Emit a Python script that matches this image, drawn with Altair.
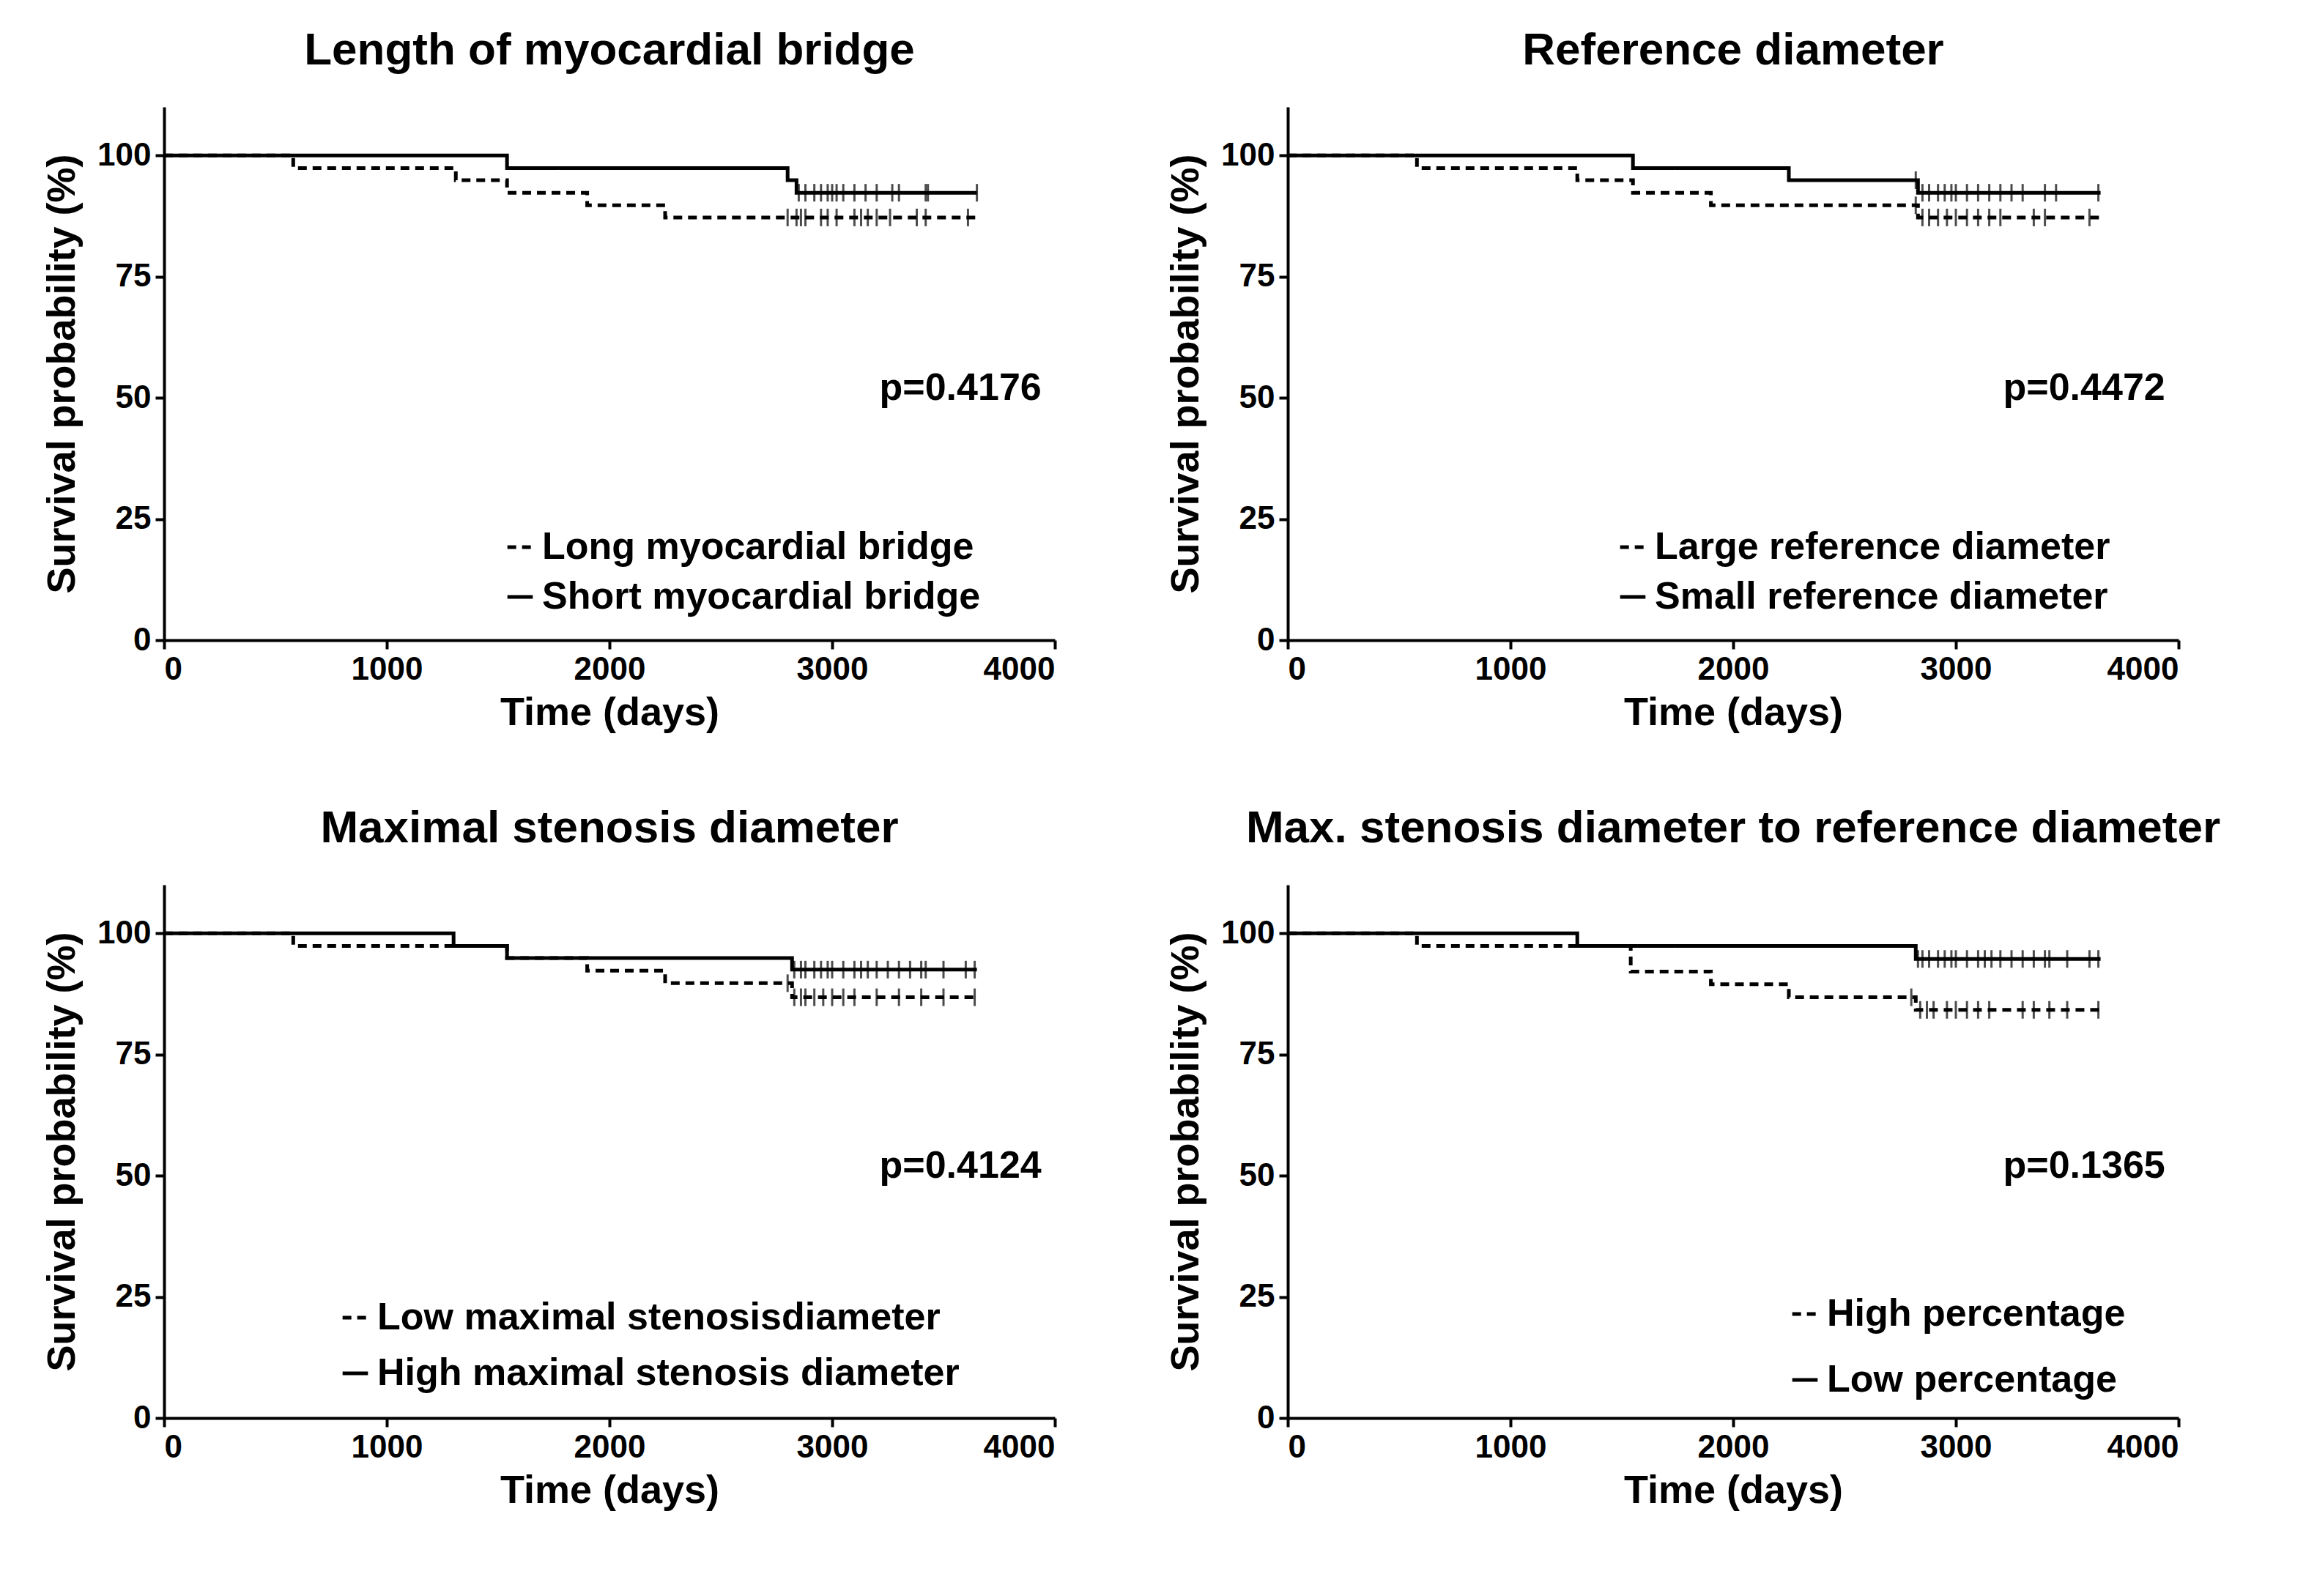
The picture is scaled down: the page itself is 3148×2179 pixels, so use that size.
import altair as alt
import pandas as pd

FONT = "Liberation Sans, Arial, sans-serif"

titles = ["Length of myocardial bridge", "Reference diameter",
          "Maximal stenosis diameter", "Max. stenosis diameter to reference diameter"]
p_values = ["p=0.4176", "p=0.4472", "p=0.4124", "p=0.1365"]

# group names: dashed first, solid second
groups = [
    ["Long myocardial bridge", "Short myocardial bridge"],
    ["Large reference diameter", "Small reference diameter"],
    ["Low maximal stenosisdiameter", "High maximal stenosis diameter"],
    ["High percentage", "Low percentage"],
]

# step curves: times of steps and survival values (%)
dash_t = [
    [0, 580, 1310, 1540, 1900, 2250, 3650],
    [0, 580, 1300, 1550, 1900, 2830, 3650],
    [0, 580, 1540, 1900, 2250, 2820, 3650],
    [0, 580, 1540, 1900, 2250, 2820, 3650],
]
dash_s = [
    [100, 97.4, 94.9, 92.3, 89.7, 87.2, 87.2],
    [100, 97.4, 94.9, 92.3, 89.7, 87.2, 87.2],
    [100, 97.4, 94.9, 92.3, 89.7, 86.8, 86.8],
    [100, 97.4, 92.1, 89.5, 86.8, 84.2, 84.2],
]
solid_t = [
    [0, 1540, 2800, 2840, 3650],
    [0, 1550, 2250, 2830, 3650],
    [0, 1300, 1540, 2820, 3650],
    [0, 1300, 2820, 3650],
]
solid_s = [
    [100, 97.4, 94.9, 92.3, 92.3],
    [100, 97.4, 94.9, 92.3, 92.3],
    [100, 97.4, 94.9, 92.5, 92.5],
    [100, 97.4, 94.7, 94.7],
]

# censoring marks (days)
dash_c = [
    [2800, 2840, 2860, 2880, 2950, 2980, 3020, 3100, 3130, 3160, 3200, 3260, 3380, 3420, 3610],
    [2820, 2850, 2880, 2920, 2960, 3000, 3050, 3100, 3150, 3200, 3350, 3400, 3600],
    [2800, 2830, 2860, 2880, 2920, 2960, 3000, 3050, 3100, 3200, 3300, 3400, 3500, 3640],
    [2800, 2840, 2870, 2900, 2960, 3000, 3050, 3100, 3150, 3300, 3350, 3420, 3500, 3640],
]
solid_c = [
    [2850, 2880, 2920, 2950, 2980, 3000, 3020, 3050, 3100, 3150, 3200, 3270, 3300, 3420, 3430, 3650],
    [2820, 2850, 2880, 2920, 2950, 2980, 3000, 3050, 3100, 3150, 3200, 3250, 3300, 3400, 3450, 3640],
    [2830, 2860, 2880, 2920, 2950, 2980, 3000, 3050, 3100, 3130, 3160, 3200, 3250, 3300, 3350, 3400, 3420, 3500, 3600, 3640],
    [2830, 2850, 2880, 2920, 2950, 2980, 3000, 3050, 3100, 3130, 3160, 3200, 3250, 3300, 3350, 3400, 3420, 3500, 3600, 3640],
]

legend_pos = [(460, 575), (445, 575), (235, 565), (680, 560)]
legend_gap = [16, 16, 24, 38]

W, H = 1216, 728


def panel(i):
    rows, cens = [], []
    for g, ts, ss, cs in [(groups[i][0], dash_t[i], dash_s[i], dash_c[i]),
                          (groups[i][1], solid_t[i], solid_s[i], solid_c[i])]:
        for t, s in zip(ts, ss):
            rows.append({"time": t, "surv": s, "group": g})
        for c in cs:
            s_at = [s for t, s in zip(ts, ss) if t <= c][-1]
            cens.append({"time": c, "surv": s_at, "group": g})
    df = pd.DataFrame(rows)
    dc = pd.DataFrame(cens)
    dash_scale = alt.Scale(domain=groups[i], range=[[12, 8], [1, 0]])
    x = alt.X("time:Q", title="Time (days)",
              scale=alt.Scale(domain=[0, 4000], nice=False),
              axis=alt.Axis(values=[0, 1000, 2000, 3000, 4000], format="d"))
    y = alt.Y("surv:Q", title="Survival probability (%)",
              scale=alt.Scale(domain=[0, 110], nice=False),
              axis=alt.Axis(values=[0, 25, 50, 75, 100], format="d"))
    lines = alt.Chart(df).mark_line(interpolate="step-after", color="black", strokeWidth=5).encode(
        x=x, y=y, detail="group:N",
        strokeDash=alt.StrokeDash("group:N", scale=dash_scale, sort=groups[i],
                                  legend=alt.Legend(
                                      title=None, orient="none",
                                      legendX=legend_pos[i][0], legendY=legend_pos[i][1],
                                      labelFont=FONT, labelFontSize=52, labelFontWeight="bold",
                                      labelColor="black", symbolType="stroke", symbolSize=1200,
                                      symbolStrokeWidth=5, symbolStrokeColor="black",
                                      rowPadding=legend_gap[i], labelLimit=1000)),
    )
    ticks = alt.Chart(dc).mark_tick(orient="vertical", color="black", size=24, thickness=3).encode(
        x="time:Q", y="surv:Q")
    ptxt = alt.Chart(pd.DataFrame({"time": [3940], "surv": [52], "t": [p_values[i]]})).mark_text(
        align="right", baseline="middle", font=FONT, fontSize=52, fontWeight="bold", color="black"
    ).encode(x="time:Q", y="surv:Q", text="t:N")
    return alt.layer(lines, ticks, ptxt).properties(
        width=W, height=H,
        title=alt.TitleParams(titles[i], font=FONT, fontSize=62, fontWeight="bold",
                              color="black", offset=45))


top = alt.hconcat(panel(0), panel(1), spacing=150).resolve_scale(strokeDash="independent").resolve_legend(strokeDash="independent")
bottom = alt.hconcat(panel(2), panel(3), spacing=150).resolve_scale(strokeDash="independent").resolve_legend(strokeDash="independent")
chart = alt.vconcat(top, bottom, spacing=100).resolve_scale(strokeDash="independent").resolve_legend(
    strokeDash="independent").configure_view(
    stroke=None).configure_axis(
    labelFont=FONT, labelFontSize=44, labelFontWeight="bold", labelColor="black",
    titleFont=FONT, titleFontSize=54, titleFontWeight="bold", titleColor="black",
    domainColor="black", domainWidth=4, tickColor="black", tickWidth=4, tickSize=12,
    grid=False, labelPadding=6).configure_axisY(titlePadding=20).configure_axisX(titlePadding=10).properties(
    background="white", padding={"left": 50, "top": 30, "right": 10, "bottom": 10})

chart.save("out.html", embed_options={"renderer": "svg", "actions": False})
